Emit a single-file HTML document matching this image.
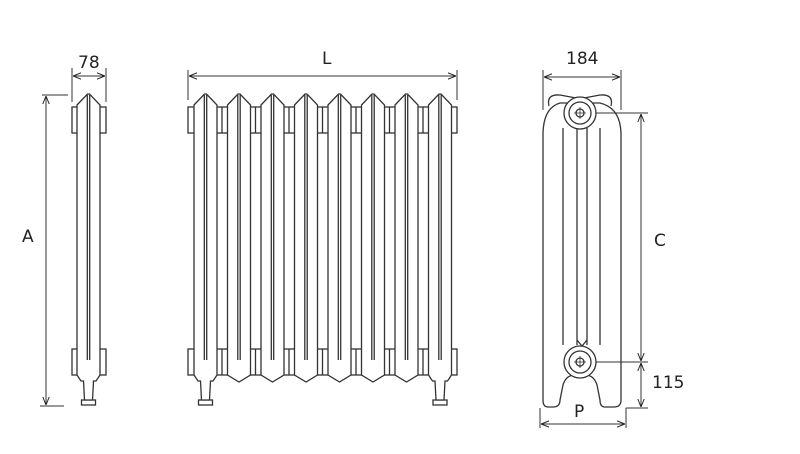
<!DOCTYPE html>
<html><head><style>
html,body{margin:0;padding:0;background:#fff;width:800px;height:454px;overflow:hidden}
svg text{font-family:"DejaVu Sans","Liberation Sans",sans-serif;font-size:17px;fill:#222}
</style></head><body>
<svg id="s" width="800" height="454" viewBox="0 0 800 454" xmlns="http://www.w3.org/2000/svg">
<defs>
<marker id="a" viewBox="0 0 10 10" refX="10" refY="5" markerWidth="8" markerHeight="8" orient="auto-start-reverse" markerUnits="userSpaceOnUse"><path d="M0,1 L10,5 L0,9" fill="none" stroke="#222" stroke-width="1.2"/></marker>
</defs>
<g id="g" fill="none" stroke="#333" stroke-width="1.3">
<line x1="42" y1="95" x2="68" y2="95" stroke-width="1"/>
<line x1="40" y1="406" x2="64" y2="406" stroke-width="1"/>
<line x1="46" y1="96" x2="46" y2="405" stroke-width="1" marker-start="url(#a)" marker-end="url(#a)"/>
<line x1="72" y1="68" x2="72" y2="102" stroke-width="1"/>
<line x1="106" y1="68" x2="106" y2="102" stroke-width="1"/>
<line x1="73" y1="76" x2="105" y2="76" stroke-width="1" marker-start="url(#a)" marker-end="url(#a)"/>
<line x1="188" y1="70" x2="188" y2="100" stroke-width="1"/>
<line x1="457" y1="70" x2="457" y2="100" stroke-width="1"/>
<line x1="189" y1="76" x2="456" y2="76" stroke-width="1" marker-start="url(#a)" marker-end="url(#a)"/>
<line x1="543" y1="70" x2="543" y2="110" stroke-width="1"/>
<line x1="621" y1="70" x2="621" y2="110" stroke-width="1"/>
<line x1="544" y1="77" x2="620" y2="77" stroke-width="1" marker-start="url(#a)" marker-end="url(#a)"/>
<line x1="580" y1="113" x2="648" y2="113" stroke-width="1"/>
<line x1="580" y1="362" x2="648" y2="362" stroke-width="1"/>
<line x1="626" y1="408" x2="648" y2="408" stroke-width="1"/>
<line x1="641" y1="114" x2="641" y2="361" stroke-width="1" marker-start="url(#a)" marker-end="url(#a)"/>
<line x1="641" y1="363" x2="641" y2="407" stroke-width="1" marker-start="url(#a)" marker-end="url(#a)"/>
<line x1="540" y1="408" x2="540" y2="428" stroke-width="1"/>
<line x1="626" y1="408" x2="626" y2="428" stroke-width="1"/>
<line x1="541" y1="424" x2="625" y2="424" stroke-width="1" marker-start="url(#a)" marker-end="url(#a)"/>
<path d="M543,400 L543,135 Q543,108 560,103 L600,103 Q621,108 621,135 L621,400 Q621,407 614,407 L605,407 Q600,407 600,400 L597,385 Q594,375 585,375 L575,375 Q566,375 563,385 L560,400 Q560,407 553,407 L548,407 Q543,407 543,400 Z"/>
<path d="M549,106 Q546,94 560,95 L576,98 M611,106 Q614,94 600,95 L584,98"/>
<path d="M563,128 L563,345 M577,128 L577,345 M587,128 L587,345 M600,128 L600,345"/>
<path d="M577,340 L582,346 L587,340"/>
<circle cx="580" cy="113" r="16" fill="#fff"/><circle cx="580" cy="113" r="11"/><circle cx="580" cy="113" r="4"/>
<path d="M574,113 H586 M580,107 V119" stroke-width="0.8"/>
<circle cx="580" cy="362" r="16" fill="#fff"/><circle cx="580" cy="362" r="11"/><circle cx="580" cy="362" r="4"/>
<path d="M574,362 H586 M580,356 V368" stroke-width="0.8"/>
</g>
<text x="78" y="68">78</text>
<text x="322" y="64">L</text>
<text x="566" y="64">184</text>
<text x="22" y="242">A</text>
<text x="654" y="246">C</text>
<text x="652" y="388">115</text>
<text x="574" y="417">P</text>
</svg>
<script>
var g=document.getElementById('g'),h='';
function sec(x,w,leg){var c=x+w/2,r=x+w;
 var p='M'+x+',105 L'+(c-1)+',94 L'+(c+1)+',94 L'+r+',105 L'+r+',375 ';
 if(leg){p+='L'+(r-4)+',381 L'+(c+5)+',381 L'+(c+4)+',400 L'+(c-4)+',400 L'+(c-5)+',381 L'+(x+4)+',381 L'+x+',375 Z';
  h+='<rect x="'+(c-7)+'" y="400" width="14" height="5"/>';}
 else p+='L'+c+',382 L'+x+',375 Z';
 h+='<path fill="#fff" d="'+p+'"/>';
 h+='<path d="M'+(c-1.2)+',95 V360 M'+(c+1.2)+',95 V360"/>';}
function boss(x,w){h+='<rect fill="#fff" x="'+x+'" y="107" width="'+w+'" height="26"/><rect fill="#fff" x="'+x+'" y="349" width="'+w+'" height="26"/>';}
boss(72,34);sec(77,23,1);
boss(188,269);
for(var i=0;i<8;i++){var x=194+33.5*i;sec(x,23,i==0||i==7);if(i<7)h+='<path d="M'+(x+28)+',107 V133 M'+(x+28)+',349 V375"/>';}
g.insertAdjacentHTML('beforeend',h);
</script>
</body></html>
